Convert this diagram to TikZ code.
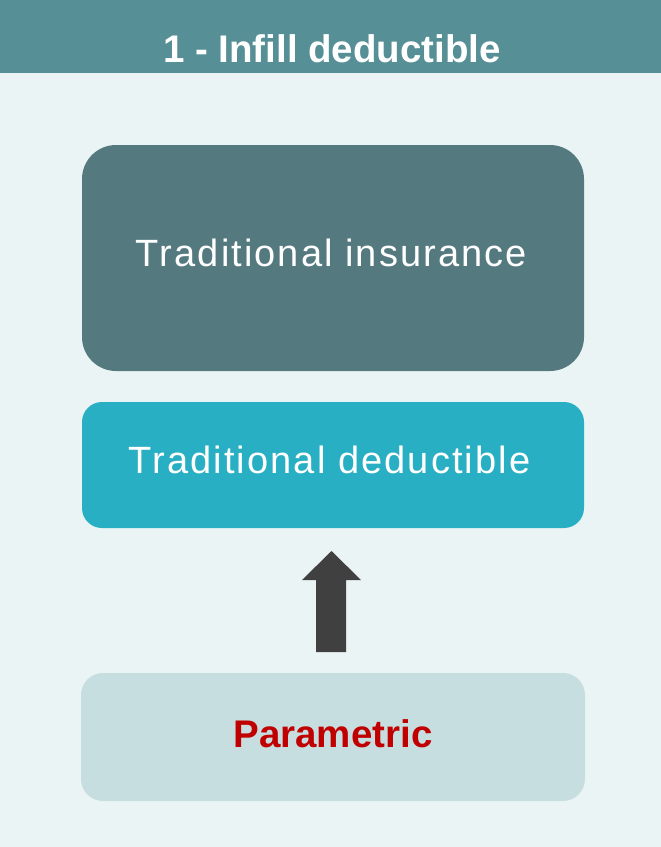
\documentclass[tikz,border=0pt]{standalone}
\usepackage{fontspec}
\setmainfont{Liberation Sans}
\newfontfamily\spacedfont[LetterSpace=5.5]{Liberation Sans}
\definecolor{bgcol}{HTML}{EBF4F5}
\definecolor{headcol}{HTML}{568F96}
\definecolor{insurcol}{HTML}{547A80}
\definecolor{deductcol}{HTML}{29AFC4}
\definecolor{paracol}{HTML}{C7DEE0}
\definecolor{arrowcol}{HTML}{404040}
\definecolor{redtext}{HTML}{C00000}
\tikzset{
  panel/.style={draw=none, inner sep=0pt, outer sep=0pt},
  bigtext/.style={anchor=base, inner sep=0pt, font=\fontsize{38}{44}\selectfont\spacedfont, text=white},
  boldtext/.style={anchor=base, inner sep=0pt, font=\fontsize{38.5}{44}\selectfont\bfseries}
}
\begin{document}
\begin{tikzpicture}[x=1pt,y=-1pt]
\useasboundingbox (0,0) rectangle (661,847);
\fill[bgcol] (0,0) rectangle (661,847);
% header
\fill[headcol] (0,0) rectangle (661,73);
\node[boldtext, text=white] (title) at (332,62) {1 - Infill deductible};
% boxes
\fill[insurcol, rounded corners=34pt] (82,145) rectangle (584,371);
\coordinate (insur) at (333,258);
\node[bigtext] (insurtext) at (331.5,266) {Traditional insurance};
\fill[deductcol, rounded corners=20pt] (82,402) rectangle (584,528);
\coordinate (deduct) at (333,465);
\node[bigtext] (deducttext) at (329.5,473) {Traditional deductible};
\fill[paracol, rounded corners=22pt] (81,673) rectangle (585,801);
\coordinate (para) at (333,737);
\node[boldtext, text=redtext] (paratext) at (333,747) {Parametric};
% block arrow
\coordinate (atip) at (331.5,551);
\fill[arrowcol] (atip) -- (361,580) -- (346,580) -- (346,652) -- (316,652) -- (316,580) -- (302,580) -- cycle;
\end{tikzpicture}
\end{document}
